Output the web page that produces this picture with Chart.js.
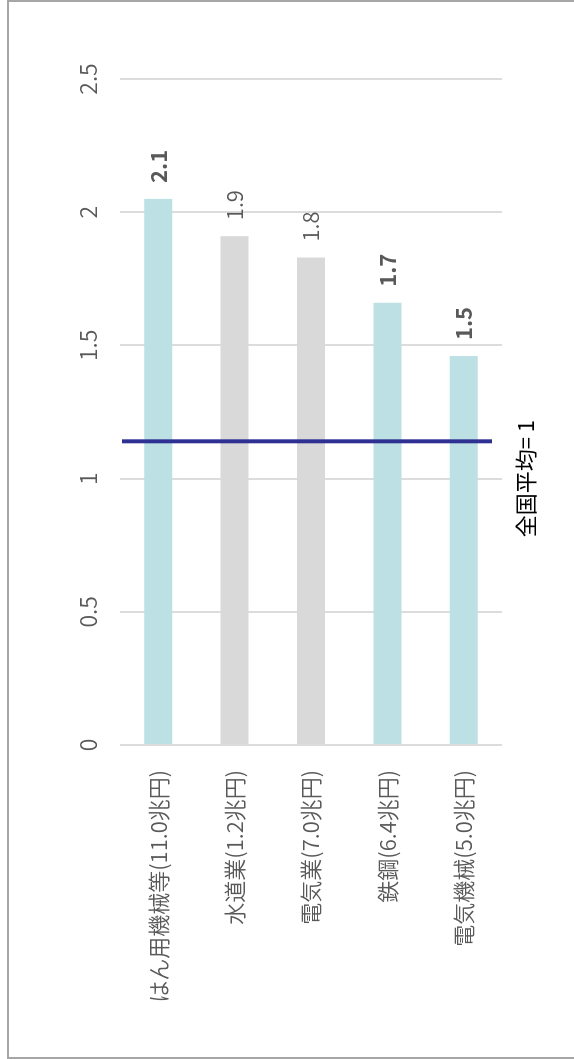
<!DOCTYPE html>
<html>
<head>
<meta charset="utf-8">
<script src="https://cdn.jsdelivr.net/npm/chart.js@4"></script>
<style>
body{margin:0;background:#fff;overflow:hidden;width:574px;height:1059px;position:relative}
#frame{position:absolute;left:7px;top:0;width:640px;height:1055px;border:2px solid #a6a6a6}
/* the chart is laid out landscape and turned a quarter left */
#wrap{position:absolute;left:0;top:0;width:1059px;height:574px;transform-origin:0 0;transform:translateY(1059px) rotate(-90deg)}
</style>
</head>
<body>
<div id="frame"></div>
<div id="wrap"><canvas id="chart" width="1059" height="574"></canvas></div>
<script>
const categories = ['はん用機械等(11.0兆円)', '水道業(1.2兆円)', '電気業(7.0兆円)', '鉄鋼(6.4兆円)', '電気機械(5.0兆円)']
const ratios = [2.05, 1.91, 1.83, 1.66, 1.46]
const ratioLabels = ['2.1', '1.9', '1.8', '1.7', '1.5']
const highlighted = [true, false, false, true, true]
const valueTicks = [0, 0.5, 1, 1.5, 2, 2.5]
const avgLineAt = 1.14
const avgLabel = '全国平均= 1'
const avgLabelAt = 1

const FONT = '"Noto Sans CJK JP", sans-serif'
const TEAL = '#bce0e3'
const GREY = '#d9d9d9'

Chart.defaults.font.family = FONT
Chart.defaults.color = '#595959'

const extras = {
    id: 'extras',
    afterDatasetsDraw(chart) {
        const ctx = chart.ctx
        const xs = chart.scales.x
        const area = chart.chartArea
        // average line
        let lx = xs.getPixelForValue(avgLineAt)
        ctx.save()
        ctx.strokeStyle = '#2e3192'
        ctx.lineWidth = 4
        ctx.beginPath()
        ctx.moveTo(lx, area.top + 2)
        ctx.lineTo(lx, area.bottom - 10)
        ctx.stroke()
        // its label
        ctx.fillStyle = '#000'
        ctx.font = '22px ' + FONT
        ctx.textAlign = 'center'
        ctx.textBaseline = 'middle'
        ctx.fillText(avgLabel, xs.getPixelForValue(avgLabelAt), area.bottom + 24)
        // value labels
        let meta = chart.getDatasetMeta(0)
        meta.data.forEach((bar, i) => {
            ctx.font = (highlighted[i] ? 'bold ' : '350 ') + '22px ' + FONT
            ctx.fillStyle = '#595959'
            ctx.textAlign = 'left'
            ctx.fillText(ratioLabels[i], bar.x + 16, bar.y)
        })
        ctx.restore()
    }
}

new Chart(document.getElementById('chart'), {
    type: 'bar',
    data: {
        labels: categories,
        datasets: [{
            data: ratios,
            backgroundColor: highlighted.map(h => h ? TEAL : GREY),
            barPercentage: 0.367,
            categoryPercentage: 1.0
        }]
    },
    options: {
        indexAxis: 'y',
        responsive: false,
        animation: false,
        layout: {padding: {left: 14, top: 0, right: 79, bottom: 72}},
        plugins: {legend: {display: false}, tooltip: {enabled: false}},
        scales: {
            x: {
                position: 'top',
                min: 0,
                max: 2.5,
                afterBuildTicks: s => { s.ticks = valueTicks.map(v => ({value: v})) },
                afterFit: s => { s.height = 120 },
                border: {display: false},
                grid: {color: '#dcdcdc', lineWidth: 2, drawTicks: false},
                ticks: {padding: 18, font: {size: 23, weight: '350'}, color: '#595959', callback: v => String(v)}
            },
            y: {
                afterFit: s => { s.width = 300 },
                border: {display: false},
                grid: {display: false, drawTicks: false},
                ticks: {padding: 25, font: {size: 22, weight: '350'}, color: '#595959'}
            }
        }
    },
    plugins: [extras]
})
</script>
</body>
</html>
